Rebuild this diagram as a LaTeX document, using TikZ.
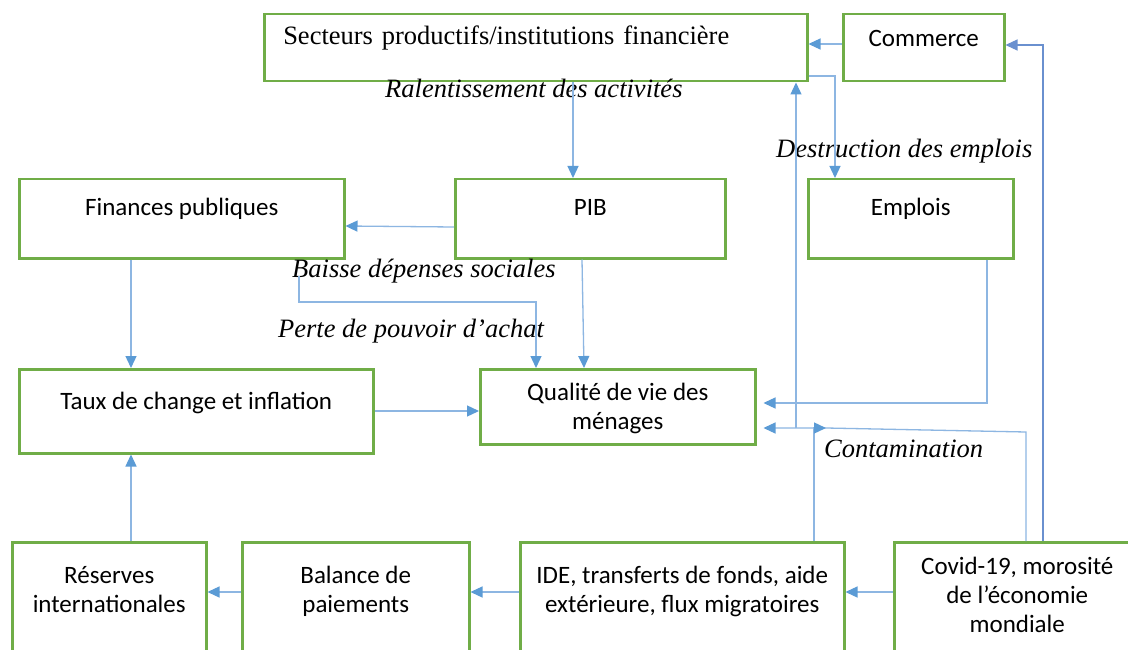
\documentclass[tikz,border=0pt]{standalone}
\usepackage{fontspec}
\setmainfont{Liberation Serif}
\newfontfamily\calibri{Carlito}
\usetikzlibrary{arrows.meta}
\definecolor{boxgreen}{HTML}{70AD47}
\definecolor{linkblue}{HTML}{8DB6E2}
\definecolor{tipblue}{HTML}{5B9BD5}
\definecolor{darkblue}{HTML}{6A90CF}

\begin{document}
\begin{tikzpicture}[x=1pt,y=-1pt,
  box/.style={draw=boxgreen,line width=2.5pt,anchor=north west,inner sep=0pt,
    align=center,font=\calibri\fontsize{25}{29}\selectfont},
  lbl/.style={anchor=base west,inner sep=0pt,font=\fontsize{26.5}{32}\selectfont\itshape},
  link/.style={draw=linkblue,line width=1.3pt,-{Triangle[length=12pt,width=11pt,color=tipblue]}}]
\fill[white] (0,0) rectangle (1128,650);
\useasboundingbox (0,0) rectangle (1128,650);
\clip (0,0) rectangle (1128,650);

% top row
\node[box,text width=505pt,inner xsep=19pt,align=left,text height=30pt,text depth=37pt,
  font=\fontsize{26.5}{32}\selectfont] (sect) at (263,13) {Secteurs productifs/institutions financière};
\node[box,minimum width=161pt,text height=32pt,text depth=35pt] (comm) at (842,13) {Commerce};

% middle rows
\node[box,minimum width=325pt,text height=36pt,text depth=43pt] (fin) at (18,178) {Finances publiques};
\node[box,minimum width=270pt,text height=36pt,text depth=43pt] (pib) at (454,178) {PIB};
\node[box,minimum width=205pt,text height=36pt,text depth=43pt] (empl) at (807,178) {Emplois};
\node[box,minimum width=354pt,text height=40pt,text depth=44pt] (taux) at (18,368) {Taux de change et inflation};
\node[box,minimum width=275pt,text height=60pt,text depth=15pt] (qual) at (479,368) {Qualité de vie des\\ménages};

% bottom row
\node[box,minimum width=194pt,text height=70pt,text depth=49pt] (res) at (11,541) {Réserves\\internationales};
\node[box,minimum width=227pt,text height=70pt,text depth=49pt] (bal) at (241,541) {Balance de\\paiements};
\node[box,minimum width=324pt,text height=70pt,text depth=49pt] (ide) at (519,541) {IDE, transferts de fonds, aide\\extérieure, flux migratoires};
\node[box,minimum width=246pt,text height=90pt,text depth=29pt] (covid) at (893,541) {Covid-19, morosité\\de l’économie\\mondiale};

% labels
\node[lbl] (ralent) at (385,98) {Ralentissement des activités};
\node[lbl] (destr) at (776,158) {Destruction des emplois};
\node[lbl] (baisse) at (292,277) {Baisse dépenses sociales};
\node[lbl] (perte) at (278,337) {Perte de pouvoir d’achat};
\node[lbl] (contam) at (824,457) {Contamination};

\coordinate (jct) at (796,428);
\coordinate (ctip) at (826,428);
\coordinate (bstart) at (299,276);

% connectors
\draw[link] (comm.west |- 0,44) -- (sect.east |- 0,44);
\draw[link] (sect.south -| 573,0) -- (pib.north -| 573,0);
\draw[link] (sect.east |- 0,76) -| (empl.north -| 835,0);
\draw[link,draw=darkblue,-{Triangle[length=12pt,width=11pt,color=darkblue]}] (covid.north -| 1043,0) |- (comm.east |- 0,45);
\draw[link] (pib.west |- 0,227) -- (fin.east |- 0,226);
\draw[link] (fin.south -| 131,0) -- (taux.north -| 131,0);
\draw[link] (pib.south -| 582,0) -- (qual.north -| 584,0);
\draw[link] (bstart) -- (299,302) -| (qual.north -| 536,0);
\draw[link] (taux.east |- 0,411) -- (qual.west |- 0,411);
\draw[link,shorten >=7pt] (empl.south -| 987,0) |- (qual.east |- 0,403);
\draw[link,shorten >=7pt] (covid.north -| 1026,0) -- (1026,432) -- (ctip) -- (qual.east |- ctip);
\draw[link] (jct) -- (sect.south -| jct);
\draw[link] (ide.north -| 814,0) |- (ctip);
\draw[link] (res.north -| 131,0) -- (taux.south -| 131,0);
\draw[link] (bal.west |- 0,592) -- (res.east |- 0,592);
\draw[link] (ide.west |- 0,592) -- (bal.east |- 0,592);
\draw[link] (covid.west |- 0,592) -- (ide.east |- 0,592);
\end{tikzpicture}
\end{document}
